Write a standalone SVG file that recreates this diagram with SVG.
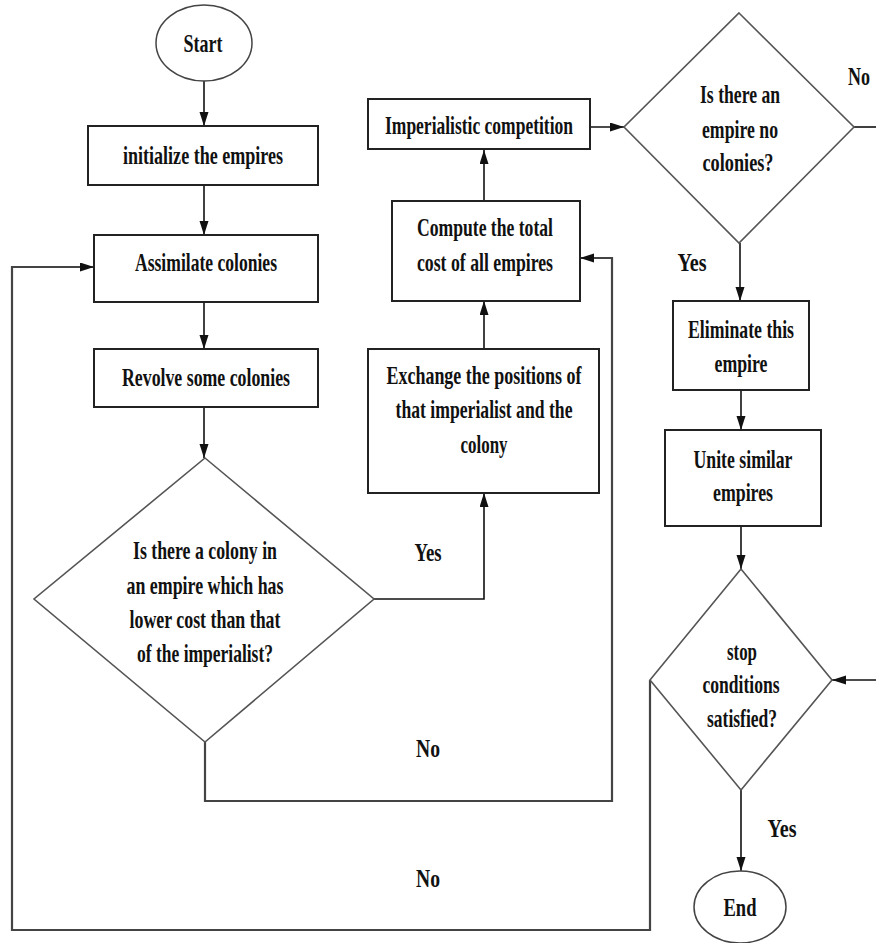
<svg xmlns="http://www.w3.org/2000/svg" width="876" height="943" viewBox="0 0 876 943">
  <style>
    .box { fill: #ffffff; stroke: #222222; stroke-width: 2; }
    .dec { fill: #ffffff; stroke: #555555; stroke-width: 1.6; }
    .term { fill: #ffffff; stroke: #444444; stroke-width: 1.5; }
    .t { font-family: "Liberation Serif", "Times New Roman", serif; font-weight: bold; font-size: 26px; fill: #111111; text-anchor: middle; }
    .edge { fill: none; stroke: #111111; stroke-width: 1.6; }
    .loop { fill: none; stroke: #444444; stroke-width: 2.2; }
  </style>
  <defs>
    <marker id="arrow" markerUnits="userSpaceOnUse" markerWidth="15" markerHeight="10" refX="14" refY="4.5" orient="auto">
      <path d="M0,0 L14,4.5 L0,9 z" fill="#111111"/>
    </marker>
  </defs>
  <rect width="876" height="943" fill="#ffffff"/>

  <!-- connectors -->
  <g id="connectors">
    <path class="edge" d="M204,81 L204,126" marker-end="url(#arrow)"/>
    <path class="edge" d="M204,185 L204,235" marker-end="url(#arrow)"/>
    <path class="edge" d="M204,302 L204,349" marker-end="url(#arrow)"/>
    <path class="edge" d="M204,407 L204,458" marker-end="url(#arrow)"/>
    <path class="edge" d="M374,599 L484,599 L484,493" marker-end="url(#arrow)"/>
    <path class="loop" d="M205,742 L205,801 L612,801 L612,258 L580,258" marker-end="url(#arrow)"/>
    <path class="edge" d="M484,349 L484,301" marker-end="url(#arrow)"/>
    <path class="edge" d="M484,201 L484,150" marker-end="url(#arrow)"/>
    <path class="edge" d="M590,127 L624,127" marker-end="url(#arrow)"/>
    <path class="edge" d="M854,127 L876,127"/>
    <path class="edge" d="M740,243 L740,301" marker-end="url(#arrow)"/>
    <path class="edge" d="M741,390 L741,430" marker-end="url(#arrow)"/>
    <path class="edge" d="M741,526 L741,569" marker-end="url(#arrow)"/>
    <path class="edge" d="M876,680 L832,680" marker-end="url(#arrow)"/>
    <path class="loop" d="M650,680 L650,930 L12,930 L12,267 L94,267" marker-end="url(#arrow)"/>
    <path class="edge" d="M741,790 L741,871" marker-end="url(#arrow)"/>
    <text class="t" x="428" y="561" textLength="27" lengthAdjust="spacingAndGlyphs">Yes</text>
    <text class="t" x="428" y="757" textLength="24" lengthAdjust="spacingAndGlyphs">No</text>
    <text class="t" x="428" y="887" textLength="24" lengthAdjust="spacingAndGlyphs">No</text>
    <text class="t" x="859" y="85" textLength="22" lengthAdjust="spacingAndGlyphs">No</text>
    <text class="t" x="692" y="271" textLength="29" lengthAdjust="spacingAndGlyphs">Yes</text>
    <text class="t" x="782" y="837" textLength="29" lengthAdjust="spacingAndGlyphs">Yes</text>
  </g>

  <g id="start">
    <ellipse class="term" cx="204" cy="43" rx="48" ry="38"/>
    <text class="t" x="203" y="52" textLength="39" lengthAdjust="spacingAndGlyphs">Start</text>
  </g>

  <g id="init-empires">
    <rect class="box" x="88" y="126" width="230" height="59"/>
    <text class="t" x="203" y="164" textLength="160" lengthAdjust="spacingAndGlyphs">initialize the empires</text>
  </g>

  <g id="assimilate">
    <rect class="box" x="94" y="235" width="224" height="67"/>
    <text class="t" x="206" y="271" textLength="142" lengthAdjust="spacingAndGlyphs">Assimilate colonies</text>
  </g>

  <g id="revolve">
    <rect class="box" x="94" y="349" width="224" height="58"/>
    <text class="t" x="206" y="386" textLength="168" lengthAdjust="spacingAndGlyphs">Revolve some colonies</text>
  </g>

  <g id="colony-check">
    <polygon class="dec" points="205,458 374,599 205,742 34,599"/>
    <text class="t" x="205" y="559" textLength="144" lengthAdjust="spacingAndGlyphs">Is there a colony in</text>
    <text class="t" x="205" y="594" textLength="157" lengthAdjust="spacingAndGlyphs">an empire which has</text>
    <text class="t" x="205" y="628" textLength="151" lengthAdjust="spacingAndGlyphs">lower cost than that</text>
    <text class="t" x="205" y="662" textLength="136" lengthAdjust="spacingAndGlyphs">of the imperialist?</text>
  </g>

  <g id="exchange">
    <rect class="box" x="368" y="349" width="231" height="144"/>
    <text class="t" x="484" y="384" textLength="195" lengthAdjust="spacingAndGlyphs">Exchange the positions of</text>
    <text class="t" x="484" y="418" textLength="177" lengthAdjust="spacingAndGlyphs">that imperialist and the</text>
    <text class="t" x="484" y="453" textLength="47" lengthAdjust="spacingAndGlyphs">colony</text>
  </g>

  <g id="total-cost">
    <rect class="box" x="392" y="201" width="188" height="100"/>
    <text class="t" x="485" y="236" textLength="136" lengthAdjust="spacingAndGlyphs">Compute the total</text>
    <text class="t" x="485" y="271" textLength="136" lengthAdjust="spacingAndGlyphs">cost of all empires</text>
  </g>

  <g id="competition">
    <rect class="box" x="368" y="99" width="222" height="50"/>
    <text class="t" x="479" y="134" textLength="188" lengthAdjust="spacingAndGlyphs">Imperialistic  competition</text>
  </g>

  <g id="empty-empire-check">
    <polygon class="dec" points="739,13 854,127 739,243 624,127"/>
    <text class="t" x="740" y="103" textLength="80" lengthAdjust="spacingAndGlyphs">Is there an</text>
    <text class="t" x="740" y="138" textLength="76" lengthAdjust="spacingAndGlyphs">empire no</text>
    <text class="t" x="738" y="171" textLength="71" lengthAdjust="spacingAndGlyphs">colonies?</text>
  </g>

  <g id="eliminate">
    <rect class="box" x="673" y="301" width="136" height="89"/>
    <text class="t" x="741" y="338" textLength="106" lengthAdjust="spacingAndGlyphs">Eliminate this</text>
    <text class="t" x="741" y="372" textLength="53" lengthAdjust="spacingAndGlyphs">empire</text>
  </g>

  <g id="unite">
    <rect class="box" x="665" y="430" width="156" height="96"/>
    <text class="t" x="743" y="468" textLength="99" lengthAdjust="spacingAndGlyphs">Unite similar</text>
    <text class="t" x="743" y="501" textLength="60" lengthAdjust="spacingAndGlyphs">empires</text>
  </g>

  <g id="stop-check">
    <polygon class="dec" points="741,569 832,680 741,790 650,680"/>
    <text class="t" x="742" y="660" textLength="30" lengthAdjust="spacingAndGlyphs">stop</text>
    <text class="t" x="741" y="693" textLength="77" lengthAdjust="spacingAndGlyphs">conditions</text>
    <text class="t" x="742" y="727" textLength="70" lengthAdjust="spacingAndGlyphs">satisfied?</text>
  </g>

  <g id="end">
    <ellipse class="term" cx="740" cy="907" rx="46" ry="36"/>
    <text class="t" x="740" y="916" textLength="33" lengthAdjust="spacingAndGlyphs">End</text>
  </g>
</svg>
